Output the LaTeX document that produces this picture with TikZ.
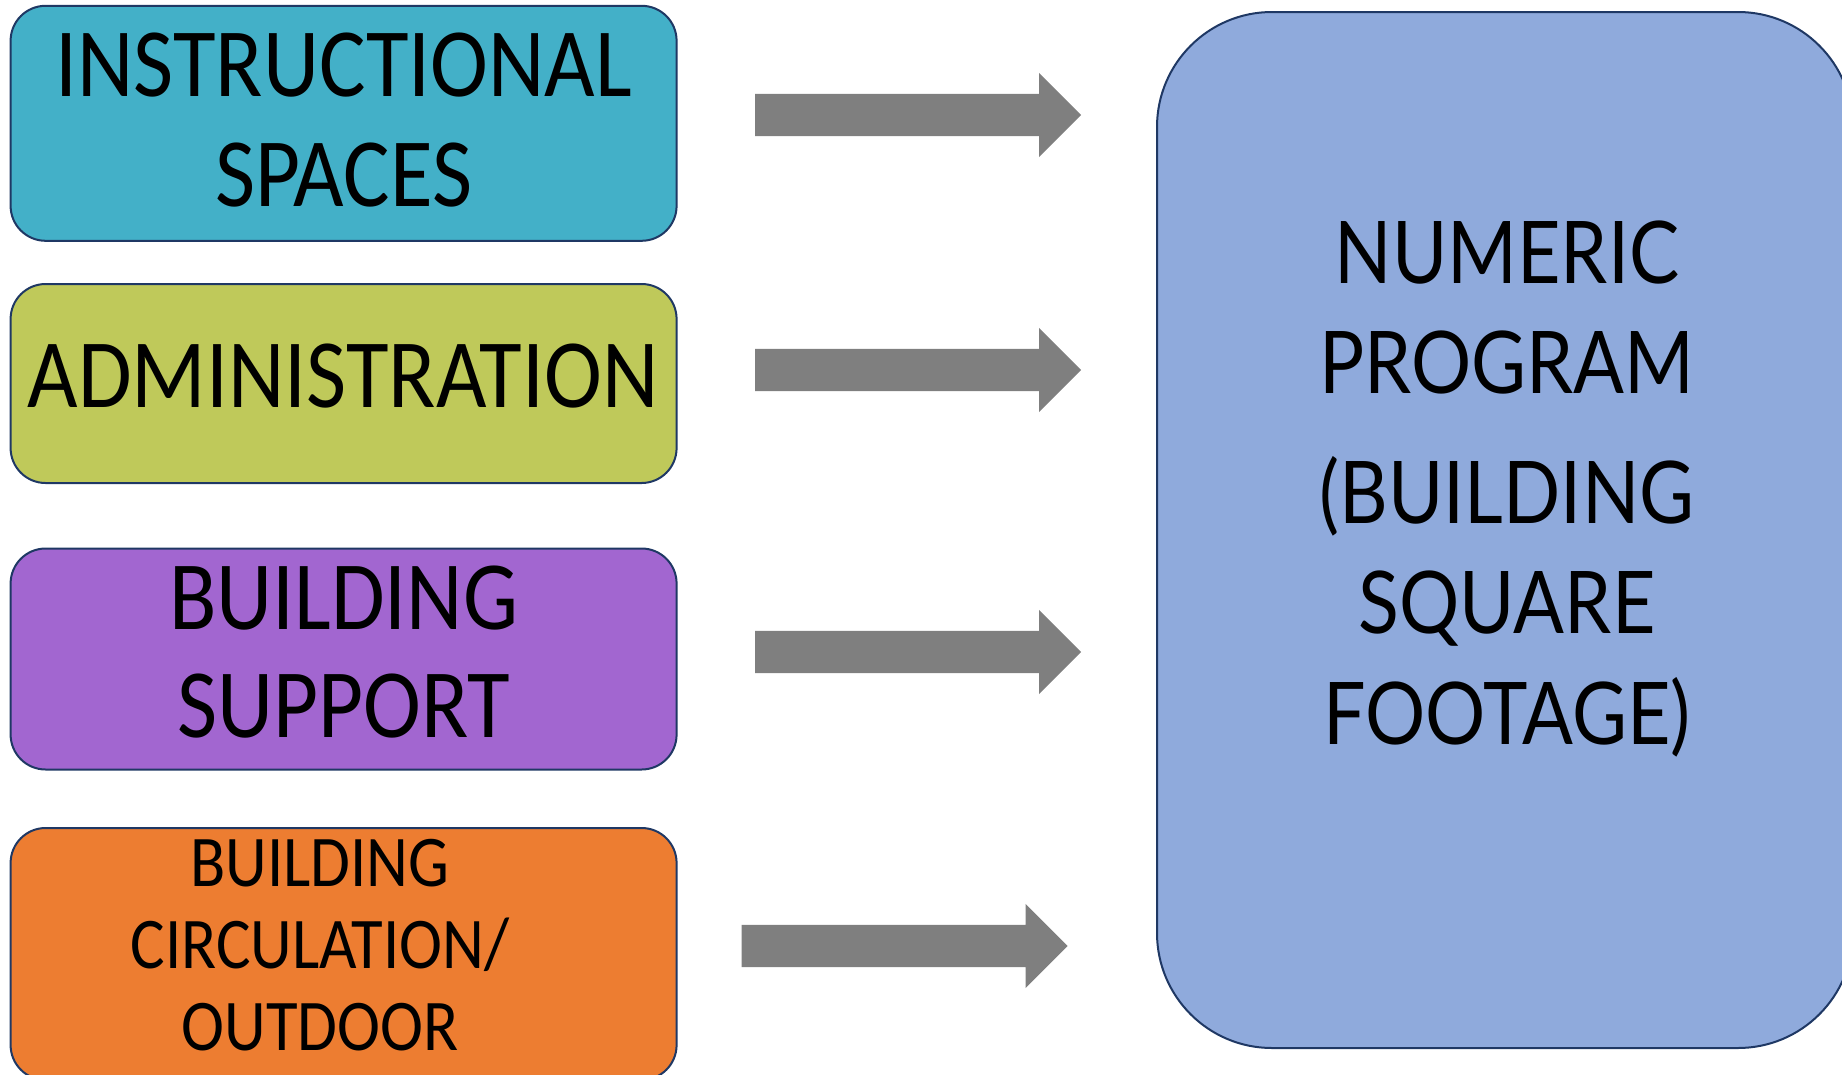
\documentclass[tikz,border=0pt]{standalone}
\usepackage{fontspec}
\setmainfont{Lato}
\newfontfamily\boxfont[FakeStretch=0.89]{Carlito}
\newfontfamily\progfont[FakeStretch=0.87]{Lato}
\usetikzlibrary{shapes.arrows}
\definecolor{edge}{HTML}{1F3864}
\definecolor{instrcol}{HTML}{43B0C8}
\definecolor{admincol}{HTML}{BFC95A}
\definecolor{suppcol}{HTML}{A266D0}
\definecolor{circcol}{HTML}{ED7D31}
\definecolor{progcol}{HTML}{8FAADC}
\definecolor{arrowgray}{HTML}{7F7F7F}
\begin{document}
\begin{tikzpicture}
    [x = 1pt, y = -1pt,
     box/.style = {draw = edge, line width = 2pt, rounded corners = 35pt, minimum width = 666pt},
     lbl/.style = {align = center, inner sep = 0pt, anchor = north},
     flow/.style = {single arrow, fill = arrowgray, inner xsep = 0pt, inner ysep = 21pt,
                    single arrow head extend = 21pt, minimum height = 326pt, anchor = tail}]
    \clip (0,0) rectangle (1842,1074);
    \node[box, fill = instrcol, minimum height = 235pt] (instr) at (343.6,123.3) {};
    \node[box, fill = admincol, minimum height = 199pt] (admin) at (343.6,383.5) {};
    \node[box, fill = suppcol, minimum height = 221pt] (supp) at (343.6,659) {};
    \node[box, fill = circcol, minimum height = 252pt] (circ) at (343.6,954) {};
    \node[box, fill = progcol, rounded corners = 115pt, minimum width = 696pt,
          minimum height = 1036pt] (prog) at (1505,530) {};
    \node[lbl, font = \boxfont\fontsize{98}{110}\selectfont] (instr-t) at (343.6,33)
      {INSTRUCTIONAL\\SPACES};
    \node[lbl, font = \boxfont\fontsize{98}{110}\selectfont] (admin-t) at (343,343.5)
      {ADMINISTRATION};
    \node[lbl, font = \boxfont\fontsize{98}{108}\selectfont] (supp-t) at (343.8,566)
      {BUILDING\\SUPPORT};
    \node[lbl, font = \boxfont\fontsize{72.8}{82}\selectfont] (circ-t) at (320,839)
      {BUILDING\\CIRCULATION/\\OUTDOOR};
    \node[lbl, font = \progfont\fontsize{86.5}{110.5}\selectfont] (prog-t) at (1507,220.5)
      {NUMERIC\\PROGRAM\\[19pt](BUILDING\\SQUARE\\FOOTAGE)};
    \foreach \n/\x/\y in {a1/755/115, a2/755/370, a3/755/652, a4/741.5/946}
      \node[flow] (\n) at (\x,\y) {};
\end{tikzpicture}
\end{document}
